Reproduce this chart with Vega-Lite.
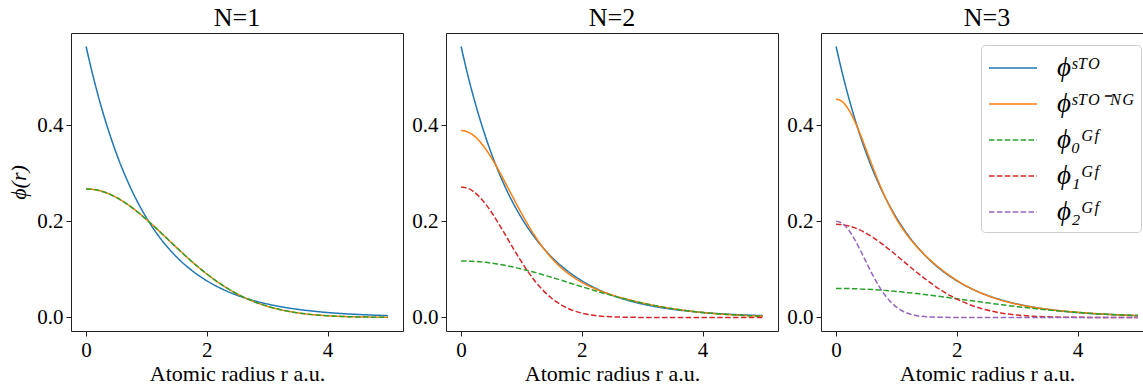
{
"$schema": "https://vega.github.io/schema/vega-lite/v6.json",
"padding": {"left": 7, "top": 4, "right": 0, "bottom": 0},
"bounds": "flush",
"spacing": 43,
"config": {
  "font": "Liberation Serif",
  "view": {"stroke": "#222222", "strokeWidth": 1},
  "axis": {"grid": false, "domain": false, "tickColor": "#222222", "tickSize": 5, "labelFontSize": 21, "titleFontSize": 22, "labelColor": "black", "titleColor": "black", "labelFont": "Liberation Serif", "titleFont": "Liberation Serif", "titleFontWeight": "normal", "labelPadding": 3},
  "title": {"fontSize": 26, "fontWeight": "normal", "font": "Liberation Serif", "offset": 2, "color": "black"},
  "legend": {"fillColor": "rgba(255,255,255,0.8)", "strokeColor": "#cccccc", "cornerRadius": 4, "padding": 7, "labelFontSize": 27, "labelFontStyle": "italic", "labelFont": "Liberation Serif", "labelColor": "black", "symbolType": "M-1.6,0H1.6", "symbolSize": 900, "symbolOffset": 9, "symbolStrokeWidth": 1.5, "symbolFillColor": "transparent", "rowPadding": 7, "labelOffset": 28, "labelLimit": 300}
},
"datasets": {
"p1": [
{"s":"STO","r":0,"v":0.5642},{"s":"STO","r":0.1,"v":0.5105},{"s":"STO","r":0.2,"v":0.4619},{"s":"STO","r":0.3,"v":0.4180},{"s":"STO","r":0.4,"v":0.3782},{"s":"STO","r":0.5,"v":0.3422},{"s":"STO","r":0.6,"v":0.3096},{"s":"STO","r":0.7,"v":0.2802},{"s":"STO","r":0.8,"v":0.2535},{"s":"STO","r":0.9,"v":0.2294},{"s":"STO","r":1,"v":0.2076},{"s":"STO","r":1.1,"v":0.1878},{"s":"STO","r":1.2,"v":0.1699},{"s":"STO","r":1.3,"v":0.1538},{"s":"STO","r":1.4,"v":0.1391},{"s":"STO","r":1.5,"v":0.1259},{"s":"STO","r":1.6,"v":0.1139},{"s":"STO","r":1.7,"v":0.1031},{"s":"STO","r":1.8,"v":0.0933},{"s":"STO","r":1.9,"v":0.0844},{"s":"STO","r":2,"v":0.0764},{"s":"STO","r":2.25,"v":0.0595},{"s":"STO","r":2.5,"v":0.0463},{"s":"STO","r":2.75,"v":0.0361},{"s":"STO","r":3,"v":0.0281},{"s":"STO","r":3.25,"v":0.0219},{"s":"STO","r":3.5,"v":0.0170},{"s":"STO","r":3.75,"v":0.0133},{"s":"STO","r":4,"v":0.0103},{"s":"STO","r":4.25,"v":0.0080},{"s":"STO","r":4.5,"v":0.0063},{"s":"STO","r":4.75,"v":0.0049},{"s":"STO","r":5,"v":0.0038},
{"s":"STO-NG","r":0,"v":0.2676},{"s":"STO-NG","r":0.1,"v":0.2669},{"s":"STO-NG","r":0.2,"v":0.2647},{"s":"STO-NG","r":0.3,"v":0.2612},{"s":"STO-NG","r":0.4,"v":0.2562},{"s":"STO-NG","r":0.5,"v":0.2501},{"s":"STO-NG","r":0.6,"v":0.2427},{"s":"STO-NG","r":0.7,"v":0.2343},{"s":"STO-NG","r":0.8,"v":0.2250},{"s":"STO-NG","r":0.9,"v":0.2149},{"s":"STO-NG","r":1,"v":0.2041},{"s":"STO-NG","r":1.1,"v":0.1928},{"s":"STO-NG","r":1.2,"v":0.1811},{"s":"STO-NG","r":1.3,"v":0.1693},{"s":"STO-NG","r":1.4,"v":0.1573},{"s":"STO-NG","r":1.5,"v":0.1455},{"s":"STO-NG","r":1.6,"v":0.1337},{"s":"STO-NG","r":1.7,"v":0.1223},{"s":"STO-NG","r":1.8,"v":0.1112},{"s":"STO-NG","r":1.9,"v":0.1006},{"s":"STO-NG","r":2,"v":0.0905},{"s":"STO-NG","r":2.25,"v":0.0679},{"s":"STO-NG","r":2.5,"v":0.0492},{"s":"STO-NG","r":2.75,"v":0.0345},{"s":"STO-NG","r":3,"v":0.0234},{"s":"STO-NG","r":3.25,"v":0.0153},{"s":"STO-NG","r":3.5,"v":0.0097},{"s":"STO-NG","r":3.75,"v":0.0059},{"s":"STO-NG","r":4,"v":0.0035},{"s":"STO-NG","r":4.25,"v":0.0020},{"s":"STO-NG","r":4.5,"v":0.0011},{"s":"STO-NG","r":4.75,"v":0.0006},{"s":"STO-NG","r":5,"v":0.0003},
{"s":"GF0","r":0,"v":0.2676},{"s":"GF0","r":0.1,"v":0.2669},{"s":"GF0","r":0.2,"v":0.2647},{"s":"GF0","r":0.3,"v":0.2612},{"s":"GF0","r":0.4,"v":0.2562},{"s":"GF0","r":0.5,"v":0.2501},{"s":"GF0","r":0.6,"v":0.2427},{"s":"GF0","r":0.7,"v":0.2343},{"s":"GF0","r":0.8,"v":0.2250},{"s":"GF0","r":0.9,"v":0.2149},{"s":"GF0","r":1,"v":0.2041},{"s":"GF0","r":1.1,"v":0.1928},{"s":"GF0","r":1.2,"v":0.1811},{"s":"GF0","r":1.3,"v":0.1693},{"s":"GF0","r":1.4,"v":0.1573},{"s":"GF0","r":1.5,"v":0.1455},{"s":"GF0","r":1.6,"v":0.1337},{"s":"GF0","r":1.7,"v":0.1223},{"s":"GF0","r":1.8,"v":0.1112},{"s":"GF0","r":1.9,"v":0.1006},{"s":"GF0","r":2,"v":0.0905},{"s":"GF0","r":2.25,"v":0.0679},{"s":"GF0","r":2.5,"v":0.0492},{"s":"GF0","r":2.75,"v":0.0345},{"s":"GF0","r":3,"v":0.0234},{"s":"GF0","r":3.25,"v":0.0153},{"s":"GF0","r":3.5,"v":0.0097},{"s":"GF0","r":3.75,"v":0.0059},{"s":"GF0","r":4,"v":0.0035},{"s":"GF0","r":4.25,"v":0.0020},{"s":"GF0","r":4.5,"v":0.0011},{"s":"GF0","r":4.75,"v":0.0006},{"s":"GF0","r":5,"v":0.0003}
],
"p2": [
{"s":"STO","r":0,"v":0.5642},{"s":"STO","r":0.1,"v":0.5105},{"s":"STO","r":0.2,"v":0.4619},{"s":"STO","r":0.3,"v":0.4180},{"s":"STO","r":0.4,"v":0.3782},{"s":"STO","r":0.5,"v":0.3422},{"s":"STO","r":0.6,"v":0.3096},{"s":"STO","r":0.7,"v":0.2802},{"s":"STO","r":0.8,"v":0.2535},{"s":"STO","r":0.9,"v":0.2294},{"s":"STO","r":1,"v":0.2076},{"s":"STO","r":1.1,"v":0.1878},{"s":"STO","r":1.2,"v":0.1699},{"s":"STO","r":1.3,"v":0.1538},{"s":"STO","r":1.4,"v":0.1391},{"s":"STO","r":1.5,"v":0.1259},{"s":"STO","r":1.6,"v":0.1139},{"s":"STO","r":1.7,"v":0.1031},{"s":"STO","r":1.8,"v":0.0933},{"s":"STO","r":1.9,"v":0.0844},{"s":"STO","r":2,"v":0.0764},{"s":"STO","r":2.25,"v":0.0595},{"s":"STO","r":2.5,"v":0.0463},{"s":"STO","r":2.75,"v":0.0361},{"s":"STO","r":3,"v":0.0281},{"s":"STO","r":3.25,"v":0.0219},{"s":"STO","r":3.5,"v":0.0170},{"s":"STO","r":3.75,"v":0.0133},{"s":"STO","r":4,"v":0.0103},{"s":"STO","r":4.25,"v":0.0080},{"s":"STO","r":4.5,"v":0.0063},{"s":"STO","r":4.75,"v":0.0049},{"s":"STO","r":5,"v":0.0038},
{"s":"STO-NG","r":0,"v":0.3894},{"s":"STO-NG","r":0.1,"v":0.3869},{"s":"STO-NG","r":0.2,"v":0.3796},{"s":"STO-NG","r":0.3,"v":0.3678},{"s":"STO-NG","r":0.4,"v":0.3520},{"s":"STO-NG","r":0.5,"v":0.3329},{"s":"STO-NG","r":0.6,"v":0.3114},{"s":"STO-NG","r":0.7,"v":0.2882},{"s":"STO-NG","r":0.8,"v":0.2643},{"s":"STO-NG","r":0.9,"v":0.2403},{"s":"STO-NG","r":1,"v":0.2170},{"s":"STO-NG","r":1.1,"v":0.1948},{"s":"STO-NG","r":1.2,"v":0.1742},{"s":"STO-NG","r":1.3,"v":0.1554},{"s":"STO-NG","r":1.4,"v":0.1385},{"s":"STO-NG","r":1.5,"v":0.1236},{"s":"STO-NG","r":1.6,"v":0.1105},{"s":"STO-NG","r":1.7,"v":0.0990},{"s":"STO-NG","r":1.8,"v":0.0892},{"s":"STO-NG","r":1.9,"v":0.0806},{"s":"STO-NG","r":2,"v":0.0731},{"s":"STO-NG","r":2.25,"v":0.0582},{"s":"STO-NG","r":2.5,"v":0.0469},{"s":"STO-NG","r":2.75,"v":0.0378},{"s":"STO-NG","r":3,"v":0.0302},{"s":"STO-NG","r":3.25,"v":0.0237},{"s":"STO-NG","r":3.5,"v":0.0184},{"s":"STO-NG","r":3.75,"v":0.0139},{"s":"STO-NG","r":4,"v":0.0104},{"s":"STO-NG","r":4.25,"v":0.0076},{"s":"STO-NG","r":4.5,"v":0.0055},{"s":"STO-NG","r":4.75,"v":0.0038},{"s":"STO-NG","r":5,"v":0.0027},
{"s":"GF0","r":0,"v":0.1176},{"s":"GF0","r":0.1,"v":0.1174},{"s":"GF0","r":0.2,"v":0.1169},{"s":"GF0","r":0.3,"v":0.1160},{"s":"GF0","r":0.4,"v":0.1148},{"s":"GF0","r":0.5,"v":0.1132},{"s":"GF0","r":0.6,"v":0.1113},{"s":"GF0","r":0.7,"v":0.1092},{"s":"GF0","r":0.8,"v":0.1067},{"s":"GF0","r":0.9,"v":0.1040},{"s":"GF0","r":1,"v":0.1010},{"s":"GF0","r":1.1,"v":0.0979},{"s":"GF0","r":1.2,"v":0.0945},{"s":"GF0","r":1.3,"v":0.0910},{"s":"GF0","r":1.4,"v":0.0873},{"s":"GF0","r":1.5,"v":0.0836},{"s":"GF0","r":1.6,"v":0.0798},{"s":"GF0","r":1.7,"v":0.0759},{"s":"GF0","r":1.8,"v":0.0719},{"s":"GF0","r":1.9,"v":0.0680},{"s":"GF0","r":2,"v":0.0641},{"s":"GF0","r":2.25,"v":0.0546},{"s":"GF0","r":2.5,"v":0.0456},{"s":"GF0","r":2.75,"v":0.0374},{"s":"GF0","r":3,"v":0.0300},{"s":"GF0","r":3.25,"v":0.0237},{"s":"GF0","r":3.5,"v":0.0184},{"s":"GF0","r":3.75,"v":0.0139},{"s":"GF0","r":4,"v":0.0104},{"s":"GF0","r":4.25,"v":0.0076},{"s":"GF0","r":4.5,"v":0.0055},{"s":"GF0","r":4.75,"v":0.0038},{"s":"GF0","r":5,"v":0.0027},
{"s":"GF1","r":0,"v":0.2718},{"s":"GF1","r":0.1,"v":0.2695},{"s":"GF1","r":0.2,"v":0.2627},{"s":"GF1","r":0.3,"v":0.2518},{"s":"GF1","r":0.4,"v":0.2372},{"s":"GF1","r":0.5,"v":0.2197},{"s":"GF1","r":0.6,"v":0.2000},{"s":"GF1","r":0.7,"v":0.1791},{"s":"GF1","r":0.8,"v":0.1576},{"s":"GF1","r":0.9,"v":0.1364},{"s":"GF1","r":1,"v":0.1160},{"s":"GF1","r":1.1,"v":0.0970},{"s":"GF1","r":1.2,"v":0.0797},{"s":"GF1","r":1.3,"v":0.0644},{"s":"GF1","r":1.4,"v":0.0512},{"s":"GF1","r":1.5,"v":0.0400},{"s":"GF1","r":1.6,"v":0.0307},{"s":"GF1","r":1.7,"v":0.0232},{"s":"GF1","r":1.8,"v":0.0172},{"s":"GF1","r":1.9,"v":0.0126},{"s":"GF1","r":2,"v":0.0090},{"s":"GF1","r":2.25,"v":0.0036},{"s":"GF1","r":2.5,"v":0.0013},{"s":"GF1","r":2.75,"v":0.0004},{"s":"GF1","r":3,"v":0.0001},{"s":"GF1","r":3.25,"v":0},{"s":"GF1","r":3.5,"v":0},{"s":"GF1","r":3.75,"v":0},{"s":"GF1","r":4,"v":0},{"s":"GF1","r":4.25,"v":0},{"s":"GF1","r":4.5,"v":0},{"s":"GF1","r":4.75,"v":0},{"s":"GF1","r":5,"v":0}
],
"p3": [
{"s":"STO","r":0,"v":0.5642},{"s":"STO","r":0.1,"v":0.5105},{"s":"STO","r":0.2,"v":0.4619},{"s":"STO","r":0.3,"v":0.4180},{"s":"STO","r":0.4,"v":0.3782},{"s":"STO","r":0.5,"v":0.3422},{"s":"STO","r":0.6,"v":0.3096},{"s":"STO","r":0.7,"v":0.2802},{"s":"STO","r":0.8,"v":0.2535},{"s":"STO","r":0.9,"v":0.2294},{"s":"STO","r":1,"v":0.2076},{"s":"STO","r":1.1,"v":0.1878},{"s":"STO","r":1.2,"v":0.1699},{"s":"STO","r":1.3,"v":0.1538},{"s":"STO","r":1.4,"v":0.1391},{"s":"STO","r":1.5,"v":0.1259},{"s":"STO","r":1.6,"v":0.1139},{"s":"STO","r":1.7,"v":0.1031},{"s":"STO","r":1.8,"v":0.0933},{"s":"STO","r":1.9,"v":0.0844},{"s":"STO","r":2,"v":0.0764},{"s":"STO","r":2.25,"v":0.0595},{"s":"STO","r":2.5,"v":0.0463},{"s":"STO","r":2.75,"v":0.0361},{"s":"STO","r":3,"v":0.0281},{"s":"STO","r":3.25,"v":0.0219},{"s":"STO","r":3.5,"v":0.0170},{"s":"STO","r":3.75,"v":0.0133},{"s":"STO","r":4,"v":0.0103},{"s":"STO","r":4.25,"v":0.0080},{"s":"STO","r":4.5,"v":0.0063},{"s":"STO","r":4.75,"v":0.0049},{"s":"STO","r":5,"v":0.0038},
{"s":"STO-NG","r":0,"v":0.4550},{"s":"STO-NG","r":0.1,"v":0.4497},{"s":"STO-NG","r":0.2,"v":0.4345},{"s":"STO-NG","r":0.3,"v":0.4110},{"s":"STO-NG","r":0.4,"v":0.3816},{"s":"STO-NG","r":0.5,"v":0.3490},{"s":"STO-NG","r":0.6,"v":0.3157},{"s":"STO-NG","r":0.7,"v":0.2836},{"s":"STO-NG","r":0.8,"v":0.2542},{"s":"STO-NG","r":0.9,"v":0.2280},{"s":"STO-NG","r":1,"v":0.2051},{"s":"STO-NG","r":1.1,"v":0.1852},{"s":"STO-NG","r":1.2,"v":0.1679},{"s":"STO-NG","r":1.3,"v":0.1526},{"s":"STO-NG","r":1.4,"v":0.1389},{"s":"STO-NG","r":1.5,"v":0.1264},{"s":"STO-NG","r":1.6,"v":0.1150},{"s":"STO-NG","r":1.7,"v":0.1044},{"s":"STO-NG","r":1.8,"v":0.0946},{"s":"STO-NG","r":1.9,"v":0.0856},{"s":"STO-NG","r":2,"v":0.0773},{"s":"STO-NG","r":2.25,"v":0.0595},{"s":"STO-NG","r":2.5,"v":0.0458},{"s":"STO-NG","r":2.75,"v":0.0354},{"s":"STO-NG","r":3,"v":0.0275},{"s":"STO-NG","r":3.25,"v":0.0216},{"s":"STO-NG","r":3.5,"v":0.0171},{"s":"STO-NG","r":3.75,"v":0.0135},{"s":"STO-NG","r":4,"v":0.0107},{"s":"STO-NG","r":4.25,"v":0.0085},{"s":"STO-NG","r":4.5,"v":0.0066},{"s":"STO-NG","r":4.75,"v":0.0051},{"s":"STO-NG","r":5,"v":0.0039},
{"s":"GF0","r":0,"v":0.0605},{"s":"GF0","r":0.1,"v":0.0604},{"s":"GF0","r":0.2,"v":0.0602},{"s":"GF0","r":0.3,"v":0.0599},{"s":"GF0","r":0.4,"v":0.0594},{"s":"GF0","r":0.5,"v":0.0588},{"s":"GF0","r":0.6,"v":0.0581},{"s":"GF0","r":0.7,"v":0.0573},{"s":"GF0","r":0.8,"v":0.0564},{"s":"GF0","r":0.9,"v":0.0553},{"s":"GF0","r":1,"v":0.0542},{"s":"GF0","r":1.1,"v":0.0529},{"s":"GF0","r":1.2,"v":0.0516},{"s":"GF0","r":1.3,"v":0.0502},{"s":"GF0","r":1.4,"v":0.0488},{"s":"GF0","r":1.5,"v":0.0472},{"s":"GF0","r":1.6,"v":0.0456},{"s":"GF0","r":1.7,"v":0.0440},{"s":"GF0","r":1.8,"v":0.0424},{"s":"GF0","r":1.9,"v":0.0407},{"s":"GF0","r":2,"v":0.0390},{"s":"GF0","r":2.25,"v":0.0347},{"s":"GF0","r":2.5,"v":0.0304},{"s":"GF0","r":2.75,"v":0.0264},{"s":"GF0","r":3,"v":0.0225},{"s":"GF0","r":3.25,"v":0.0190},{"s":"GF0","r":3.5,"v":0.0158},{"s":"GF0","r":3.75,"v":0.0129},{"s":"GF0","r":4,"v":0.0104},{"s":"GF0","r":4.25,"v":0.0083},{"s":"GF0","r":4.5,"v":0.0065},{"s":"GF0","r":4.75,"v":0.0051},{"s":"GF0","r":5,"v":0.0039},
{"s":"GF1","r":0,"v":0.1940},{"s":"GF1","r":0.1,"v":0.1932},{"s":"GF1","r":0.2,"v":0.1909},{"s":"GF1","r":0.3,"v":0.1870},{"s":"GF1","r":0.4,"v":0.1818},{"s":"GF1","r":0.5,"v":0.1753},{"s":"GF1","r":0.6,"v":0.1676},{"s":"GF1","r":0.7,"v":0.1590},{"s":"GF1","r":0.8,"v":0.1496},{"s":"GF1","r":0.9,"v":0.1396},{"s":"GF1","r":1,"v":0.1293},{"s":"GF1","r":1.1,"v":0.1187},{"s":"GF1","r":1.2,"v":0.1081},{"s":"GF1","r":1.3,"v":0.0977},{"s":"GF1","r":1.4,"v":0.0876},{"s":"GF1","r":1.5,"v":0.0779},{"s":"GF1","r":1.6,"v":0.0687},{"s":"GF1","r":1.7,"v":0.0600},{"s":"GF1","r":1.8,"v":0.0521},{"s":"GF1","r":1.9,"v":0.0448},{"s":"GF1","r":2,"v":0.0383},{"s":"GF1","r":2.25,"v":0.0249},{"s":"GF1","r":2.5,"v":0.0154},{"s":"GF1","r":2.75,"v":0.0090},{"s":"GF1","r":3,"v":0.0050},{"s":"GF1","r":3.25,"v":0.0027},{"s":"GF1","r":3.5,"v":0.0014},{"s":"GF1","r":3.75,"v":0.0006},{"s":"GF1","r":4,"v":0.0003},{"s":"GF1","r":4.25,"v":0.0001},{"s":"GF1","r":4.5,"v":0.0001},{"s":"GF1","r":4.75,"v":0},{"s":"GF1","r":5,"v":0},
{"s":"GF2","r":0,"v":0.2006},{"s":"GF2","r":0.1,"v":0.1961},{"s":"GF2","r":0.2,"v":0.1835},{"s":"GF2","r":0.3,"v":0.1641},{"s":"GF2","r":0.4,"v":0.1404},{"s":"GF2","r":0.5,"v":0.1149},{"s":"GF2","r":0.6,"v":0.0899},{"s":"GF2","r":0.7,"v":0.0673},{"s":"GF2","r":0.8,"v":0.0482},{"s":"GF2","r":0.9,"v":0.0330},{"s":"GF2","r":1,"v":0.0216},{"s":"GF2","r":1.1,"v":0.0135},{"s":"GF2","r":1.2,"v":0.0081},{"s":"GF2","r":1.3,"v":0.0047},{"s":"GF2","r":1.4,"v":0.0026},{"s":"GF2","r":1.5,"v":0.0013},{"s":"GF2","r":1.6,"v":0.0007},{"s":"GF2","r":1.7,"v":0.0003},{"s":"GF2","r":1.8,"v":0.0002},{"s":"GF2","r":1.9,"v":0.0001},{"s":"GF2","r":2,"v":0},{"s":"GF2","r":2.25,"v":0},{"s":"GF2","r":2.5,"v":0},{"s":"GF2","r":2.75,"v":0},{"s":"GF2","r":3,"v":0},{"s":"GF2","r":3.25,"v":0},{"s":"GF2","r":3.5,"v":0},{"s":"GF2","r":3.75,"v":0},{"s":"GF2","r":4,"v":0},{"s":"GF2","r":4.25,"v":0},{"s":"GF2","r":4.5,"v":0},{"s":"GF2","r":4.75,"v":0},{"s":"GF2","r":5,"v":0}
]
},
"hconcat": [
{
 "width": 332, "height": 298, "title": "N=1",
 "data": {"name": "p1"},
 "mark": {"type": "line", "interpolate": "monotone", "strokeWidth": 1.5},
 "encoding": {
  "x": {"field": "r", "type": "quantitative", "scale": {"domain": [-0.25, 5.25], "nice": false, "zero": false}, "axis": {"values": [0, 2, 4], "title": "Atomic radius r a.u.", "titlePadding": 3}},
  "y": {"field": "v", "type": "quantitative", "scale": {"domain": [-0.0282, 0.5924], "nice": false, "zero": false}, "axis": {"values": [0, 0.2, 0.4], "format": ".1f", "title": "ϕ(r)", "titleFontStyle": "italic", "titlePadding": 6}},
  "color": {"field": "s", "type": "nominal", "scale": {"domain": ["STO", "STO-NG", "GF0", "GF1", "GF2"], "range": ["#1f77b4", "#ff7f0e", "#2ca02c", "#d62728", "#9467bd"]}, "legend": null},
  "strokeDash": {"field": "s", "type": "nominal", "scale": {"domain": ["STO", "STO-NG", "GF0", "GF1", "GF2"], "range": [[1, 0], [1, 0], [5.5, 2.4], [5.5, 2.4], [5.5, 2.4]]}, "legend": null}
 }
},
{
 "width": 332, "height": 298, "title": "N=2",
 "data": {"name": "p2"},
 "mark": {"type": "line", "interpolate": "monotone", "strokeWidth": 1.5},
 "encoding": {
  "x": {"field": "r", "type": "quantitative", "scale": {"domain": [-0.25, 5.25], "nice": false, "zero": false}, "axis": {"values": [0, 2, 4], "title": "Atomic radius r a.u.", "titlePadding": 3}},
  "y": {"field": "v", "type": "quantitative", "scale": {"domain": [-0.0282, 0.5924], "nice": false, "zero": false}, "axis": {"values": [0, 0.2, 0.4], "format": ".1f", "title": null}},
  "color": {"field": "s", "type": "nominal", "scale": {"domain": ["STO", "STO-NG", "GF0", "GF1", "GF2"], "range": ["#1f77b4", "#ff7f0e", "#2ca02c", "#d62728", "#9467bd"]}, "legend": null},
  "strokeDash": {"field": "s", "type": "nominal", "scale": {"domain": ["STO", "STO-NG", "GF0", "GF1", "GF2"], "range": [[1, 0], [1, 0], [5.5, 2.4], [5.5, 2.4], [5.5, 2.4]]}, "legend": null}
 }
},
{
 "width": 332, "height": 298, "title": "N=3",
 "data": {"name": "p3"},
 "mark": {"type": "line", "interpolate": "monotone", "strokeWidth": 1.5},
 "encoding": {
  "x": {"field": "r", "type": "quantitative", "scale": {"domain": [-0.25, 5.25], "nice": false, "zero": false}, "axis": {"values": [0, 2, 4], "title": "Atomic radius r a.u.", "titlePadding": 3}},
  "y": {"field": "v", "type": "quantitative", "scale": {"domain": [-0.0282, 0.5924], "nice": false, "zero": false}, "axis": {"values": [0, 0.2, 0.4], "format": ".1f", "title": null}},
  "color": {"field": "s", "type": "nominal", "scale": {"domain": ["STO", "STO-NG", "GF0", "GF1", "GF2"], "range": ["#1f77b4", "#ff7f0e", "#2ca02c", "#d62728", "#9467bd"]}, "legend": {"orient": "top-right", "offset": 12, "title": null, "labelExpr": "{'STO':'ϕˢᵀᴼ','STO-NG':'ϕˢᵀᴼ⁻ᴺᴳ','GF0':'ϕ₀ᴳᶠ','GF1':'ϕ₁ᴳᶠ','GF2':'ϕ₂ᴳᶠ'}[datum.label]"}},
  "strokeDash": {"field": "s", "type": "nominal", "scale": {"domain": ["STO", "STO-NG", "GF0", "GF1", "GF2"], "range": [[1, 0], [1, 0], [5.5, 2.4], [5.5, 2.4], [5.5, 2.4]]}, "legend": {"orient": "top-right", "offset": 12, "title": null, "labelExpr": "{'STO':'ϕˢᵀᴼ','STO-NG':'ϕˢᵀᴼ⁻ᴺᴳ','GF0':'ϕ₀ᴳᶠ','GF1':'ϕ₁ᴳᶠ','GF2':'ϕ₂ᴳᶠ'}[datum.label]"}}
 }
}
],
"resolve": {"legend": {"color": "independent", "strokeDash": "independent"}}
}
